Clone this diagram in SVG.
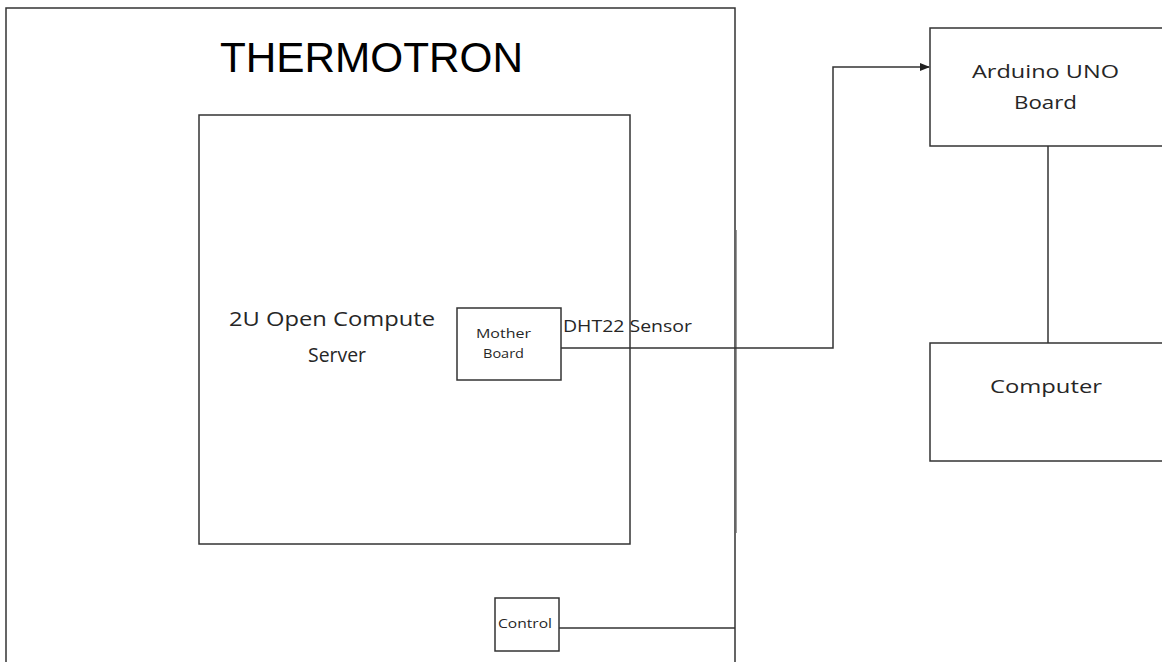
<svg xmlns="http://www.w3.org/2000/svg" width="1162" height="662" viewBox="0 0 1162 662">
  <style>
    .box { fill: #ffffff; stroke: #333333; stroke-width: 1.5; }
    .wire { fill: none; stroke: #333333; stroke-width: 1.5; }
    .t { font-family: "Open Sans", "Liberation Sans", sans-serif; fill: #262626; }
    .title { font-family: "Liberation Sans", Arial, sans-serif; fill: #000000; }
  </style>
  <defs>
    <marker id="arrow" markerWidth="10" markerHeight="8" refX="9" refY="4" orient="auto" markerUnits="userSpaceOnUse">
      <path d="M0,0 L10,4 L0,8 Z" fill="#222222"/>
    </marker>
  </defs>
  <rect width="1162" height="662" fill="#ffffff"/>

  <g id="thermotron">
    <path class="wire" d="M6,662 L6,8 L735,8 L735,662"/>
    <line x1="736.5" y1="230" x2="736.5" y2="533" stroke="#999999" stroke-width="1"/>
    <text class="title" x="220" y="72" font-size="42" textLength="303" lengthAdjust="spacingAndGlyphs">THERMOTRON</text>
  </g>

  <g id="server">
    <rect class="box" x="199" y="115" width="431" height="429"/>
    <text class="t" x="229" y="326" font-size="20" textLength="206" lengthAdjust="spacingAndGlyphs">2U Open Compute</text>
    <text class="t" x="308" y="362" font-size="20" textLength="58" lengthAdjust="spacingAndGlyphs">Server</text>
  </g>

  <g id="motherboard">
    <rect class="box" x="457" y="308" width="104" height="72"/>
    <text class="t" x="476" y="338" font-size="12" textLength="55" lengthAdjust="spacingAndGlyphs">Mother</text>
    <text class="t" x="483" y="358" font-size="12" textLength="41" lengthAdjust="spacingAndGlyphs">Board</text>
  </g>

  <g id="control">
    <rect class="box" x="495" y="598" width="64" height="53"/>
    <text class="t" x="498" y="628" font-size="12" textLength="54" lengthAdjust="spacingAndGlyphs">Control</text>
  </g>

  <g id="arduino">
    <rect class="box" x="930" y="28" width="240" height="118"/>
    <text class="t" x="972" y="78" font-size="19" textLength="147" lengthAdjust="spacingAndGlyphs">Arduino UNO</text>
    <text class="t" x="1014" y="109" font-size="19" textLength="63" lengthAdjust="spacingAndGlyphs">Board</text>
  </g>

  <g id="computer">
    <rect class="box" x="930" y="343" width="240" height="118"/>
    <text class="t" x="990" y="393" font-size="19" textLength="112" lengthAdjust="spacingAndGlyphs">Computer</text>
  </g>

  <g id="connectors">
    <path class="wire" d="M561,348 L833,348 L833,67 L929,67" marker-end="url(#arrow)"/>
    <text class="t" x="563" y="332" font-size="17" textLength="129" lengthAdjust="spacingAndGlyphs">DHT22 Sensor</text>
    <line class="wire" x1="1048" y1="146" x2="1048" y2="343"/>
    <line class="wire" x1="559" y1="628" x2="735" y2="628"/>
  </g>
</svg>
